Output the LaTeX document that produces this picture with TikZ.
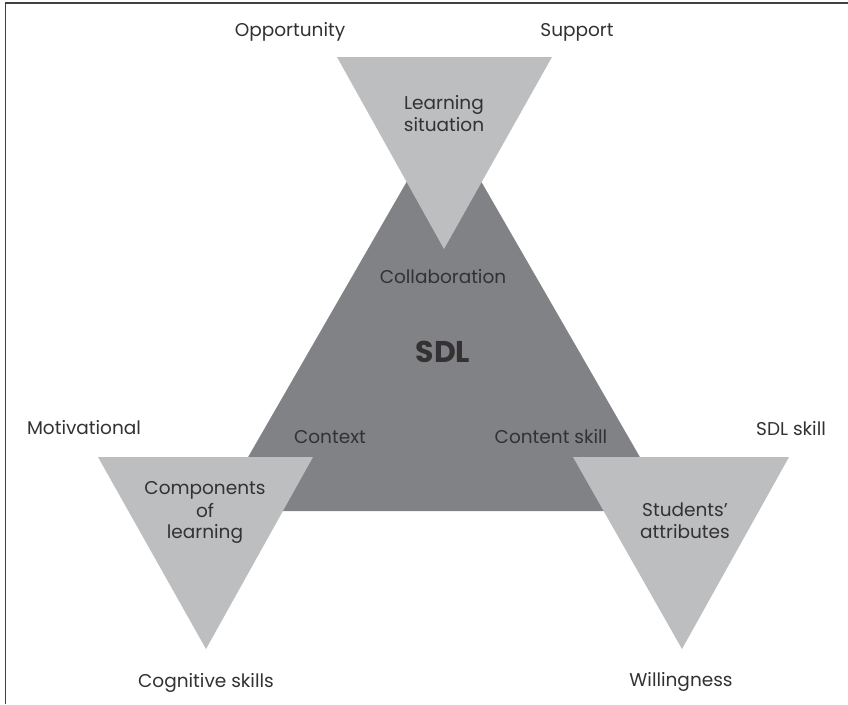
\documentclass[tikz,border=0pt]{standalone}
\usepackage{fontspec}
\setmainfont{Poppins}
\definecolor{darkg}{HTML}{808285}
\definecolor{lightg}{HTML}{BCBEC0}
\definecolor{txt}{HTML}{333132}
\definecolor{frame}{HTML}{404040}
\begin{document}
\begin{tikzpicture}[x=1pt,y=-1pt,
  lbl/.style={anchor=base, text=txt, font=\fontsize{18.5}{22}\selectfont, inner sep=0pt},
  big/.style={anchor=base, text=txt, font=\fontsize{30}{34}\selectfont\bfseries, inner sep=0pt}]
\useasboundingbox (0,0) rectangle (848,704);
\fill[white] (0,0) rectangle (848,704);
\draw[line width=1.5pt, frame] (5.5,704) -- (5.5,3) -- (848,3);
% triangles
\fill[darkg] (444,117) -- (217,511) -- (671,511) -- cycle;
\fill[lightg] (337,57) -- (552,57) -- (444,249) -- cycle;
\fill[lightg] (98,457) -- (313,457) -- (206,649) -- cycle;
\fill[lightg] (573,457) -- (789,457) -- (682,649) -- cycle;
% labels
\node[lbl] (opp) at (290,36) {Opportunity};
\node[lbl] (sup) at (577,36) {Support};
\node[lbl] (ls1) at (444,109) {Learning};
\node[lbl] (ls2) at (444,131) {situation};
\node[lbl] (col) at (443,283) {Collaboration};
\node[big] (sdl) at (443,362) {SDL};
\node[lbl] (mot) at (84,434) {Motivational};
\node[lbl] (sdls) at (791,435) {SDL skill};
\node[lbl] (ctx) at (330,443) {Context};
\node[lbl] (cont) at (551,443) {Content skill};
\node[lbl] (cl1) at (205,494) {Components};
\node[lbl] (cl2) at (205,517) {of};
\node[lbl] (cl3) at (205,538) {learning};
\node[lbl] (sa1) at (685,516) {Students’};
\node[lbl] (sa2) at (685,538) {attributes};
\node[lbl] (cog) at (206,687) {Cognitive skills};
\node[lbl] (wil) at (681,686) {Willingness};
\end{tikzpicture}
\end{document}
